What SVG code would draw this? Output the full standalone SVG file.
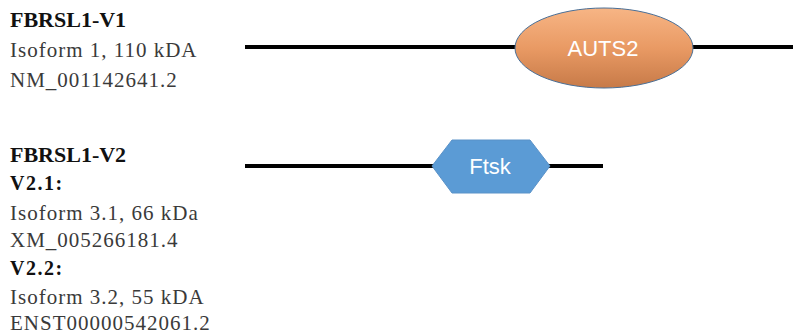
<svg xmlns="http://www.w3.org/2000/svg" width="793" height="336" viewBox="0 0 793 336">
<defs>
<linearGradient id="og" x1="0" y1="0" x2="0" y2="1">
<stop offset="0" stop-color="#f7b585"/>
<stop offset="0.5" stop-color="#e99a64"/>
<stop offset="1" stop-color="#c77a48"/>
</linearGradient>
<style>
.t{font-family:"Liberation Serif",serif;font-size:21px;letter-spacing:1px;fill:#3a3a3a}
.b{font-family:"Liberation Serif",serif;font-size:22px;font-weight:bold;fill:#111}
.bs{font-family:"Liberation Serif",serif;font-size:20px;font-weight:bold;letter-spacing:1.5px;fill:#111}
.w{font-family:"Liberation Sans",sans-serif;font-size:22px;fill:#fff;text-anchor:middle}
.ln{stroke:#000;stroke-width:4;fill:none}
</style>
</defs>
<rect width="793" height="336" fill="#fff"/>
<g id="labels">
<text class="b" x="10" y="27">FBRSL1-V1</text>
<text class="t" x="10" y="57">Isoform 1, 110 kDA</text>
<text class="t" x="10" y="87">NM_001142641.2</text>
<text class="b" x="10" y="162">FBRSL1-V2</text>
<text class="bs" x="10" y="190">V2.1:</text>
<text class="t" x="10" y="220">Isoform 3.1, 66 kDa</text>
<text class="t" x="10" y="247">XM_005266181.4</text>
<text class="bs" x="10" y="275">V2.2:</text>
<text class="t" x="10" y="304">Isoform 3.2, 55 kDA</text>
<text class="t" x="10" y="330">ENST00000542061.2</text>
</g>
<g id="connectors">
<line class="ln" x1="245" y1="47" x2="793" y2="47"/>
<line class="ln" x1="245" y1="166" x2="603" y2="166"/>
</g>
<g id="auts2">
<ellipse cx="604" cy="48" rx="89" ry="40" fill="url(#og)" stroke="#4a6f96" stroke-width="1"/>
<text class="w" x="603" y="56">AUTS2</text>
</g>
<g id="ftsk">
<polygon points="432,166 452,140 530,140 550,166 530,193 452,193" fill="#5b9bd5" stroke="#5a92c8" stroke-width="1"/>
<text class="w" x="490" y="174">Ftsk</text>
</g>
</svg>
